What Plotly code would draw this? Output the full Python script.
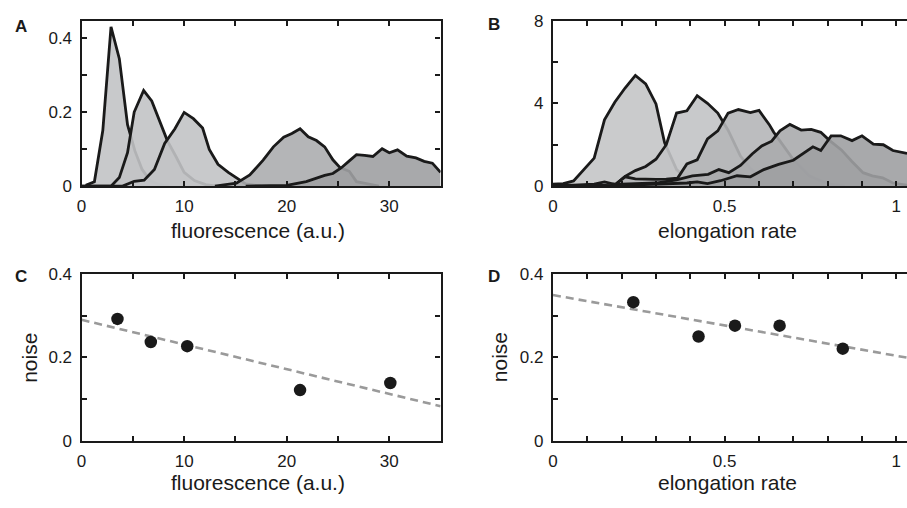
import plotly.graph_objects as go

# ---------------- data ----------------
# Panel A: fluorescence distributions
A1_x = [0.4, 1.25, 2.07, 2.87, 3.68, 4.48, 5.2, 5.9, 6.7, 7.5, 8.5]
A1_y = [0.002, 0.012, 0.15, 0.43, 0.344, 0.166, 0.095, 0.045, 0.015, 0.004, 0.0]
A2_x = [0, 2.87, 3.68, 4.48, 5.13, 6.05, 6.84, 7.6, 8.36, 9.2, 10.0, 11.0, 12.1, 13.2]
A2_y = [0, 0.0, 0.023, 0.09, 0.2, 0.258, 0.23, 0.175, 0.123, 0.08, 0.037, 0.015, 0.004, 0.0]
A3_x = [0, 4.0, 5.13, 6.1, 7.1, 8.1, 9.1, 10.0, 10.9, 11.8, 12.45, 13.3, 14.3, 15.2, 16.0, 17.5]
A3_y = [0, 0, 0.013, 0.016, 0.045, 0.115, 0.155, 0.199, 0.182, 0.157, 0.099, 0.059, 0.037, 0.02, 0.006, 0.0]
A4_x = [13, 15.1, 16.4, 17.7, 18.7, 19.7, 20.5, 21.3, 22.1, 22.9, 23.7, 24.5, 25.2, 26.1, 26.8, 27.8, 29.0]
A4_y = [0, 0.008, 0.03, 0.07, 0.106, 0.132, 0.142, 0.155, 0.133, 0.123, 0.106, 0.071, 0.05, 0.04, 0.012, 0.006, 0.0]
A5_x = [16, 20.0, 21.9, 22.9, 23.7, 24.5, 25.3, 26.1, 26.8, 27.6, 28.4, 29.3, 30.0, 30.8, 31.7, 32.6, 33.4, 34.2, 35.0]
A5_y = [0, 0.002, 0.012, 0.021, 0.029, 0.034, 0.049, 0.068, 0.085, 0.083, 0.08, 0.101, 0.09, 0.098, 0.081, 0.076, 0.067, 0.062, 0.037]

# Panel B: elongation-rate distributions
B1_x = [0, 0.03, 0.06, 0.09, 0.12, 0.15, 0.18, 0.21, 0.24, 0.27, 0.30, 0.325, 0.36, 0.39, 0.42, 0.45]
B1_y = [0.1, 0.12, 0.25, 0.8, 1.35, 3.2, 4.05, 4.74, 5.35, 4.94, 3.97, 2.1, 0.8, 0.35, 0.12, 0.0]
B2_x = [0, 0.15, 0.184, 0.21, 0.24, 0.27, 0.30, 0.33, 0.36, 0.39, 0.42, 0.45, 0.48, 0.51, 0.546, 0.575, 0.604, 0.63, 0.66, 0.7]
B2_y = [0, 0.05, 0.11, 0.47, 0.75, 0.95, 1.3, 2.0, 3.53, 3.64, 4.37, 4.0, 3.53, 2.7, 1.45, 0.85, 0.45, 0.2, 0.08, 0.0]
B3_x = [0, 0.15, 0.18, 0.21, 0.24, 0.27, 0.30, 0.33, 0.363, 0.39, 0.42, 0.45, 0.48, 0.51, 0.54, 0.575, 0.60, 0.63, 0.643, 0.70, 0.746, 0.78, 0.81, 0.85]
B3_y = [0, 0.0, 0.05, 0.45, 0.35, 0.33, 0.33, 0.34, 0.39, 1.07, 1.27, 2.28, 2.67, 3.53, 3.7, 3.55, 3.66, 2.97, 2.6, 1.28, 0.5, 0.25, 0.08, 0.0]
B4_x = [0, 0.06, 0.12, 0.15, 0.18, 0.24, 0.30, 0.36, 0.406, 0.452, 0.483, 0.512, 0.546, 0.58, 0.608, 0.637, 0.661, 0.69, 0.723, 0.752, 0.78, 0.806, 0.84, 0.87, 0.903, 0.93, 0.96, 0.99, 1.031]
B4_y = [0.05, 0.05, 0.1, 0.2, 0.08, 0.1, 0.15, 0.3, 0.5, 0.57, 0.8, 0.65, 1.0, 1.55, 1.94, 2.17, 2.67, 2.98, 2.71, 2.74, 2.6, 2.2, 1.75, 1.2, 0.65, 0.5, 0.4, 0.15, 0.05]
B5_x = [0, 0.06, 0.12, 0.18, 0.24, 0.30, 0.36, 0.39, 0.42, 0.45, 0.488, 0.536, 0.575, 0.614, 0.657, 0.70, 0.757, 0.78, 0.81, 0.838, 0.871, 0.90, 0.933, 0.962, 0.99, 1.031]
B5_y = [0.0, 0.03, 0.05, 0.02, 0.05, 0.08, 0.12, 0.15, 0.2, 0.12, 0.26, 0.5, 0.45, 0.8, 1.05, 1.25, 1.9, 1.72, 2.43, 2.43, 2.2, 2.43, 2.03, 2.0, 1.72, 1.58]

# Panel C: noise vs fluorescence
C_x = [3.5, 6.75, 10.3, 21.3, 30.1]
C_y = [0.292, 0.237, 0.227, 0.122, 0.139]
C_fit = [0.29, -0.0059]   # intercept, slope

# Panel D: noise vs elongation rate
D_x = [0.234, 0.424, 0.53, 0.66, 0.844]
D_y = [0.332, 0.25, 0.276, 0.276, 0.221]
D_fit = [0.349, -0.145]   # intercept, slope

A_range = [0, 35]
B_range = [0, 1.031]

# tick labels
fl_ticks = [0, 5, 10, 15, 20, 25, 30, 35]
fl_text = ['0', '', '10', '', '20', '', '30', '']
el_ticks = [0, 0.1, 0.2, 0.3, 0.4, 0.5, 0.6, 0.7, 0.8, 0.9, 1.0]
el_text = ['0', '', '', '', '', '0.5', '', '', '', '', '1']
pa_ticks = [0, 0.1, 0.2, 0.3, 0.4]
pa_text = ['0', '', '0.2', '', '0.4']
pb_ticks = [0, 2, 4, 6, 8]
pb_text = ['0', '', '4', '', '8']
noise_ticks = [0, 0.1, 0.2, 0.3, 0.4]
noise_text = ['0', '', '0.2', '', '0.4']

# ---------------- figure ----------------
W, H = 907, 508
FONT = "Liberation Sans, Arial, Helvetica, sans-serif"
INK = '#1a1a1a'
LW = 2.8

fig = go.Figure()

A_fills = ['rgba(194,195,197,0.9)', 'rgba(194,195,197,0.9)', 'rgba(194,195,197,0.9)',
           'rgba(172,173,175,0.9)', 'rgba(159,160,162,0.9)']
B_fills = ['rgba(196,197,199,0.9)', 'rgba(194,195,197,0.9)', 'rgba(181,182,184,0.9)',
           'rgba(170,171,173,0.9)', 'rgba(159,160,162,0.9)']

for (xs, ys), fc in zip([(A1_x, A1_y), (A2_x, A2_y), (A3_x, A3_y), (A4_x, A4_y), (A5_x, A5_y)], A_fills):
    fig.add_trace(go.Scatter(x=xs, y=ys, mode='lines', fill='tozeroy', fillcolor=fc,
                             line=dict(color=INK, width=LW), xaxis='x', yaxis='y',
                             showlegend=False, hoverinfo='skip'))
for (xs, ys), fc in zip([(B1_x, B1_y), (B2_x, B2_y), (B3_x, B3_y), (B4_x, B4_y), (B5_x, B5_y)], B_fills):
    fig.add_trace(go.Scatter(x=xs, y=ys, mode='lines', fill='tozeroy', fillcolor=fc,
                             line=dict(color=INK, width=LW), xaxis='x2', yaxis='y2',
                             showlegend=False, hoverinfo='skip'))

# fit lines
fig.add_trace(go.Scatter(x=A_range, y=[C_fit[0] + C_fit[1] * v for v in A_range], mode='lines',
                         line=dict(color='#9a9a9a', width=2.6, dash='8px,5px'),
                         xaxis='x3', yaxis='y3', showlegend=False, hoverinfo='skip'))
fig.add_trace(go.Scatter(x=C_x, y=C_y, mode='markers', marker=dict(color=INK, size=12.5),
                         xaxis='x3', yaxis='y3', showlegend=False))
fig.add_trace(go.Scatter(x=B_range, y=[D_fit[0] + D_fit[1] * v for v in B_range], mode='lines',
                         line=dict(color='#9a9a9a', width=2.6, dash='8px,5px'),
                         xaxis='x4', yaxis='y4', showlegend=False, hoverinfo='skip'))
fig.add_trace(go.Scatter(x=D_x, y=D_y, mode='markers', marker=dict(color=INK, size=12.5),
                         xaxis='x4', yaxis='y4', showlegend=False))

def px_x(a, b):
    return [a / W, min(b / W, 1.0)]

def px_y(top, bottom):
    return [1 - bottom / H, 1 - top / H]

tickfont = dict(family=FONT, size=17, color=INK)

def ax(domain, rng, tv, tt, anchor, mirror=True):
    return dict(domain=domain, range=rng, tickmode='array', tickvals=tv, ticktext=tt,
                ticks='inside', ticklen=5, tickwidth=1.5, tickcolor=INK,
                showline=True, linewidth=2.2, linecolor=INK,
                mirror='allticks' if mirror else False,
                showgrid=False, zeroline=False, anchor=anchor, tickfont=tickfont,
                fixedrange=True)

xA = px_x(77, 438); xB = px_x(551, 907)
yTop = px_y(12, 184); yBot = px_y(275, 449)

fig.update_layout(
    width=W, height=H, margin=dict(l=0, r=0, t=0, b=0),
    paper_bgcolor='white', plot_bgcolor='white',
    xaxis=ax(xA, A_range, fl_ticks, fl_text, 'y'),
    yaxis=ax(yTop, [0, 0.447], pa_ticks, pa_text, 'x'),
    xaxis2=ax(xB, B_range, el_ticks, el_text, 'y2'),
    yaxis2=ax(yTop, [0, 8], pb_ticks, pb_text, 'x2', mirror=False),
    xaxis3=ax(xA, A_range, fl_ticks, fl_text, 'y3'),
    yaxis3=ax(yBot, [0, 0.4], noise_ticks, noise_text, 'x3'),
    xaxis4=ax(xB, B_range, el_ticks, el_text, 'y4'),
    yaxis4=ax(yBot, [0, 0.4], noise_ticks, noise_text, 'x4', mirror=False),
)
for k in ['xaxis', 'xaxis2', 'xaxis3', 'xaxis4']:
    fig.layout[k].ticklabelstandoff = 3
for k in ['yaxis', 'yaxis2', 'yaxis3', 'yaxis4']:
    fig.layout[k].ticklabelstandoff = 4

def note(text, x, y, size, bold=False, angle=0):
    fig.add_annotation(text=('<b>%s</b>' % text) if bold else text, x=x / W, y=1 - y / H,
                       xref='paper', yref='paper', showarrow=False, xanchor='center',
                       yanchor='middle', textangle=angle,
                       font=dict(family=FONT, size=size, color=INK))

note('A', 16.5, 18, 17, bold=True)
note('B', 491.5, 16, 17, bold=True)
note('C', 16.5, 277.5, 17, bold=True)
note('D', 491.5, 277.5, 17, bold=True)
note('fluorescence (a.u.)', 254, 230, 21)
note('elongation rate', 727, 230, 21)
note('fluorescence (a.u.)', 254, 492, 21)
note('elongation rate', 727, 492, 21)
note('noise', 24.5, 362, 21, angle=-90)
note('noise', 497.5, 362, 21, angle=-90)

fig.write_html("out.html", config={'displayModeBar': False},
               post_script="document.body.style.margin='0';document.body.style.overflow='hidden';")
